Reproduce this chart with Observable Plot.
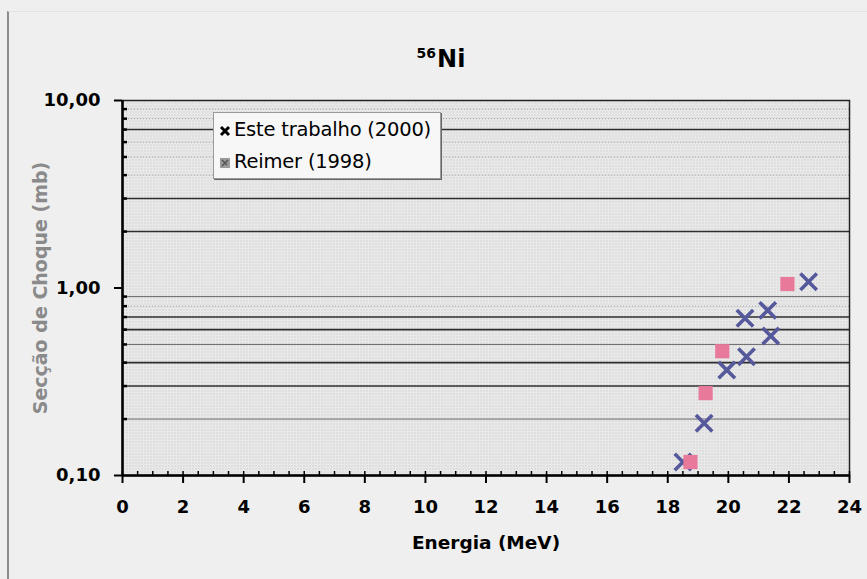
<!DOCTYPE html>
<html>
<head>
<meta charset="utf-8">
<script src="https://cdn.jsdelivr.net/npm/d3@7"></script>
<script src="https://cdn.jsdelivr.net/npm/@observablehq/plot@0.6"></script>
<style>
  html, body { margin: 0; padding: 0; background: #efefef; }
  #wrap { position: relative; width: 867px; height: 579px; overflow: hidden; background: #efefef; font-family: "DejaVu Sans", Verdana, sans-serif; }
  #border { position: absolute; left: 7px; top: 11px; width: 900px; height: 600px; border-left: 2px solid #8a8a8a; border-top: 1px solid #e2e2e2; }
  #title { position: absolute; left: 0; width: 882px; top: 45px; text-align: center; font-weight: bold; font-size: 24px; color: #000; }
  #title sup { font-size: 14px; vertical-align: 9px; margin-right: 1px; }
  #legend { position: absolute; left: 213px; top: 112px; width: 226px; height: 65px; background: #f7f7f7; border: 1px solid #9a9a9a; box-shadow: 1px 1px 0 #666; font-size: 19.5px; color: #000; letter-spacing: -0.2px; }
  .row { position: absolute; left: 5px; height: 24px; line-height: 24px; white-space: nowrap; }
  .row svg { vertical-align: -1px; margin-right: 3px; }
  #chart { position: absolute; left: 0; top: 0; }
  #chart svg g[aria-label="y-axis tick label"] text,
  #chart svg g[aria-label="x-axis tick label"] text { font-size: 18px; font-weight: bold; }
</style>
</head>
<body>
<div id="wrap">
  <div id="border"></div>
  <div id="chart"></div>
  <div id="title"><sup>56</sup>Ni</div>
  <div id="legend">
    <div class="row" style="top:5px"><svg width="12" height="12"><path d="M2,2L10,10M10,2L2,10" stroke="#000" stroke-width="3"/></svg>Este trabalho (2000)</div>
    <div class="row" style="top:37px"><svg width="12" height="12"><rect x="1" y="1" width="10" height="10" fill="#9a9a9a"/><path d="M3,9L9,3M3,3L8,8" stroke="#555" stroke-width="1.5"/></svg>Reimer (1998)</div>
  </div>
</div>
<script>
// ---- data ----
const seriesNames = ["Este trabalho (2000)", "Reimer (1998)"];
const energy2000 = [18.5, 19.2, 19.95, 20.6, 20.55, 21.4, 21.3, 22.65];
const sigma2000  = [0.118, 0.19, 0.365, 0.43, 0.69, 0.555, 0.76, 1.08];
const energy1998 = [18.75, 19.25, 19.8, 21.95];
const sigma1998  = [0.118, 0.275, 0.46, 1.05];
const xTicks = [0, 2, 4, 6, 8, 10, 12, 14, 16, 18, 20, 22, 24];
const xMinorTicks = d3.range(0, 24.01, 0.5);
const yTicks = [0.1, 1, 10];
const yTickLabels = ["0,10", "1,00", "10,00"];
const yMinorTicks = [0.2,0.3,0.4,0.5,0.6,0.7,0.8,0.9,2,3,4,5,6,7,8,9];
const gridStrong = [0.3, 0.4, 0.6, 0.7, 2, 3, 7];
const gridMedium = [0.2, 0.5, 0.9];
const gridFaint  = [0.8, 4, 5, 6, 8, 9];
const xLabel = "Energia (MeV)";
const yLabel = "Secção de Choque (mb)";

const data2000 = energy2000.map((e, i) => ({e, s: sigma2000[i]}));
const data1998 = energy1998.map((e, i) => ({e, s: sigma1998[i]}));

const chart = Plot.plot({
  width: 867,
  height: 579,
  marginLeft: 122,
  marginRight: 18,
  marginTop: 100,
  marginBottom: 104,
  style: {background: "transparent", fontFamily: "DejaVu Sans, Verdana, sans-serif", color: "#000", overflow: "visible"},
  x: {domain: [0, 24]},
  y: {type: "log", domain: [0.1, 10]},
  marks: [
    Plot.frame({fill: "url(#dots)", stroke: null}),
    Plot.ruleY(gridFaint, {stroke: "#a0a0a0", strokeDasharray: "1,2"}),
    Plot.ruleY(gridMedium, {stroke: "#6a6a6a"}),
    Plot.ruleY(gridStrong, {stroke: "#2e2e2e", strokeWidth: 1.6}),
    Plot.frame({stroke: "#222", strokeWidth: 1.5}),
    Plot.axisY({ticks: yMinorTicks, tickSize: -5, tickFormat: () => "", strokeWidth: 2.5, label: null}),
    Plot.axisX({ticks: xMinorTicks, tickSize: -4, tickFormat: () => "", strokeWidth: 1.5, label: null}),
    Plot.axisY({ticks: yTicks, tickSize: 8, tickPadding: 14, strokeWidth: 2,
      tickFormat: d => yTickLabels[yTicks.indexOf(d)], label: null}),
    Plot.axisX({ticks: xTicks, tickSize: 8, tickPadding: 17, strokeWidth: 2, label: null}),
    Plot.ruleX([0], {stroke: "#000", strokeWidth: 2.5}),
    Plot.ruleY([0.1], {stroke: "#000", strokeWidth: 2.5}),
    Plot.text([yLabel], {text: d => d, frameAnchor: "left", textAnchor: "middle", dx: -82, rotate: -90, fontSize: 19, fontWeight: "bold", fill: "#8a8a8a"}),
    Plot.text([xLabel], {text: d => d, frameAnchor: "bottom", dy: 73, fontSize: 18.5, fontWeight: "bold", fill: "#000"}),
    Plot.dot(data2000, {x: "e", y: "s", symbol: "times", r: 7.5, stroke: "#55589a", strokeWidth: 3.6, title: () => seriesNames[0]}),
    Plot.dot(data1998, {x: "e", y: "s", symbol: "square", r: 8, fill: "#e9799b", stroke: null, title: () => seriesNames[1]})
  ]
});

const defs = document.createElementNS("http://www.w3.org/2000/svg", "defs");
defs.innerHTML = '<pattern id="dots" width="3" height="3" patternUnits="userSpaceOnUse"><rect width="3" height="3" fill="#eeeeee"/><rect width="1" height="1" fill="#b4b4b4"/><rect x="1.5" y="1.5" width="1" height="1" fill="#cecece"/></pattern>';
chart.insertBefore(defs, chart.firstChild);
document.getElementById("chart").appendChild(chart);
</script>
</body>
</html>
